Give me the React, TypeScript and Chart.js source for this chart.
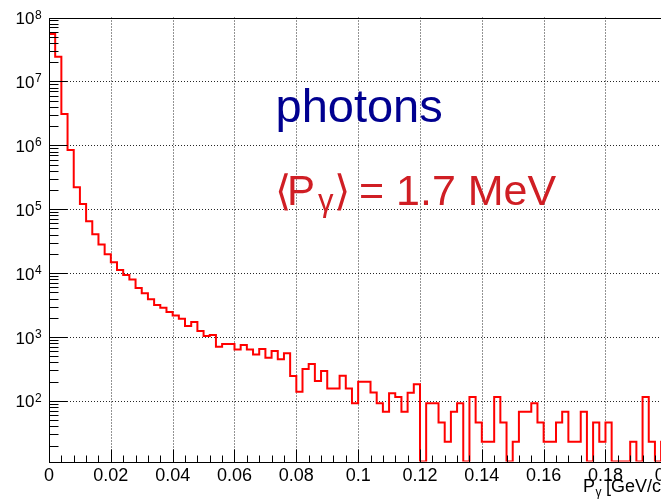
import { useEffect, useRef } from "react";
import { Chart, registerables } from "chart.js";

Chart.register(...registerables);

// Histogram: 100 bins of width 0.002 GeV/c from 0 to 0.2
const binWidth = 0.002;
const xMin = 0;
const xMax = 0.2;
const yMin = 11.3;
const yMax = 1e8;

const counts = [
  5.5e7, 2.44e7, 3.09e6, 8.44e5, 2.2e5, 1.21e5, 6.5e4, 4.05e4, 2.82e4, 1.97e4,
  1.48e4, 1.12e4, 9340, 7950, 5850, 4830, 3890, 3170, 2880, 2460,
  2170, 1930, 1490, 1720, 1240, 1040, 1075, 705, 777, 777,
  641, 750, 641, 535, 648, 474, 604, 448, 556, 245,
  139, 316, 378, 205, 294, 157, 157, 248, 157, 92,
  200, 200, 136, 92, 68, 132, 115, 68, 134, 182,
  0, 92, 92, 46, 23, 68, 92, 0, 115, 46,
  23, 23, 115, 46, 0, 23, 68, 68, 92, 46,
  23, 23, 46, 68, 23, 23, 68, 0, 46, 23,
  46, 0, 0, 0, 23, 0, 115, 23, 0, 23,
];

const xTickValues = [0, 0.02, 0.04, 0.06, 0.08, 0.1, 0.12, 0.14, 0.16, 0.18, 0.2];
const xTickLabels = ["0", "0.02", "0.04", "0.06", "0.08", "0.1", "0.12", "0.14", "0.16", "0.18", "0.2"];
const yDecadeExponents = [2, 3, 4, 5, 6, 7, 8];

const CANVAS_W = 720;
const CANVAS_H = 503;
const FONT = '"Liberation Sans", Arial, Helvetica, sans-serif';

const rootStylePlugin = {
  id: "rootStyle",
  beforeDatasetsDraw(chart: any) {
    const { ctx, chartArea } = chart;
    const xs = chart.scales.x;
    const ys = chart.scales.y;
    ctx.save();
    ctx.strokeStyle = "rgba(0,0,0,0.85)";
    ctx.lineWidth = 1;
    ctx.setLineDash([1, 2]);
    xTickValues.forEach((v) => {
      if (v <= xMin) return;
      const px = Math.round(xs.getPixelForValue(v)) + 0.5;
      ctx.beginPath();
      ctx.moveTo(px, chartArea.top);
      ctx.lineTo(px, chartArea.bottom);
      ctx.stroke();
    });
    yDecadeExponents.forEach((d) => {
      const v = Math.pow(10, d);
      if (v >= yMax) return;
      const py = Math.round(ys.getPixelForValue(v)) + 0.5;
      ctx.beginPath();
      ctx.moveTo(chartArea.left, py);
      ctx.lineTo(chartArea.right, py);
      ctx.stroke();
    });
    ctx.restore();
  },
  afterDatasetsDraw(chart: any) {
    const { ctx, chartArea } = chart;
    const xs = chart.scales.x;
    const ys = chart.scales.y;
    ctx.save();
    ctx.setLineDash([]);
    ctx.strokeStyle = "#000";
    ctx.lineWidth = 1;
    // frame
    ctx.strokeRect(
      Math.round(chartArea.left) + 0.5,
      Math.round(chartArea.top) + 0.5,
      Math.round(chartArea.right) - Math.round(chartArea.left),
      Math.round(chartArea.bottom) - Math.round(chartArea.top)
    );
    const left = Math.round(chartArea.left) + 0.5;
    const bottom = Math.round(chartArea.bottom) + 0.5;
    // y ticks (log, inside)
    ctx.beginPath();
    for (let d = 1; d <= 8; d++) {
      for (let m = 1; m <= 9; m++) {
        const v = m * Math.pow(10, d);
        if (v < yMin || v > yMax * 1.0001) continue;
        const py = Math.round(ys.getPixelForValue(v)) + 0.5;
        const len = m === 1 ? 18 : 9;
        ctx.moveTo(left, py);
        ctx.lineTo(left + len, py);
      }
    }
    // x ticks
    for (let k = 0; k <= 50; k++) {
      const v = k * 0.004;
      const px = Math.round(xs.getPixelForValue(v)) + 0.5;
      const len = k % 5 === 0 ? 13 : 7;
      ctx.moveTo(px, bottom);
      ctx.lineTo(px, bottom - len);
    }
    ctx.stroke();

    // y labels 10^n
    ctx.fillStyle = "#000";
    yDecadeExponents.forEach((d) => {
      const py = ys.getPixelForValue(Math.pow(10, d));
      ctx.font = `17px ${FONT}`;
      ctx.textAlign = "right";
      ctx.textBaseline = "alphabetic";
      ctx.fillText("10", 34.5, py + 6.5);
      ctx.font = `12px ${FONT}`;
      ctx.textAlign = "left";
      ctx.fillText(String(d), 35, py + 1);
    });
    // x labels
    ctx.font = `18px ${FONT}`;
    ctx.textAlign = "center";
    xTickValues.forEach((v, i) => {
      const px = xs.getPixelForValue(v);
      ctx.fillText(xTickLabels[i], px, 481);
    });
    // x title
    ctx.textAlign = "left";
    ctx.font = `18px ${FONT}`;
    ctx.fillText("P", 583, 492);
    ctx.font = `12px ${FONT}`;
    ctx.fillText("γ", 595.5, 496);
    ctx.font = `18px ${FONT}`;
    ctx.fillText("[GeV/c]", 606, 492);

    // annotations
    ctx.fillStyle = "#000090";
    ctx.font = `47px ${FONT}`;
    ctx.fillText("photons", 275.5, 121.5);

    ctx.fillStyle = "rgb(208,30,36)";
    ctx.font = `42px ${FONT}`;
    ctx.fillText("⟨", 275, 205);
    ctx.fillText("P", 287, 205);
    ctx.font = `31px ${FONT}`;
    ctx.fillText("γ", 318, 211);
    ctx.font = `42px ${FONT}`;
    ctx.fillText("⟩", 334, 205);
    ctx.font = `43px ${FONT}`;
    ctx.fillText("= 1.7 MeV", 359, 205);
    ctx.restore();
  },
};

export default function App() {
  const canvasRef = useRef<HTMLCanvasElement | null>(null);

  useEffect(() => {
    const canvas = canvasRef.current;
    if (!canvas) return;
    const points = counts.map((c, i) => ({ x: xMin + i * binWidth, y: Math.max(c, yMin) }));
    points.push({ x: xMin + counts.length * binWidth, y: Math.max(counts[counts.length - 1], yMin) });

    const chart = new Chart(canvas, {
      type: "line",
      data: {
        datasets: [
          {
            data: points,
            stepped: true,
            borderColor: "#ff0000",
            borderWidth: 2,
            pointRadius: 0,
            fill: false,
            tension: 0,
          },
        ],
      },
      options: {
        animation: false,
        responsive: false,
        devicePixelRatio: 1,
        events: [],
        layout: {
          padding: { left: 49, top: 17.5, right: CANVAS_W - 667.3, bottom: CANVAS_H - 461.5 },
        },
        scales: {
          x: { type: "linear", min: xMin, max: xMax, display: false },
          y: { type: "logarithmic", min: yMin, max: yMax, display: false },
        },
        plugins: {
          legend: { display: false },
          tooltip: { enabled: false },
        },
      },
      plugins: [rootStylePlugin],
    } as any);

    return () => chart.destroy();
  }, []);

  return (
    <div
      style={{
        position: "absolute",
        left: 0,
        top: 0,
        width: 661,
        height: 503,
        overflow: "hidden",
        background: "#fff",
      }}
    >
      <canvas
        ref={canvasRef}
        width={CANVAS_W}
        height={CANVAS_H}
        style={{ display: "block", width: CANVAS_W, height: CANVAS_H }}
      />
    </div>
  );
}
